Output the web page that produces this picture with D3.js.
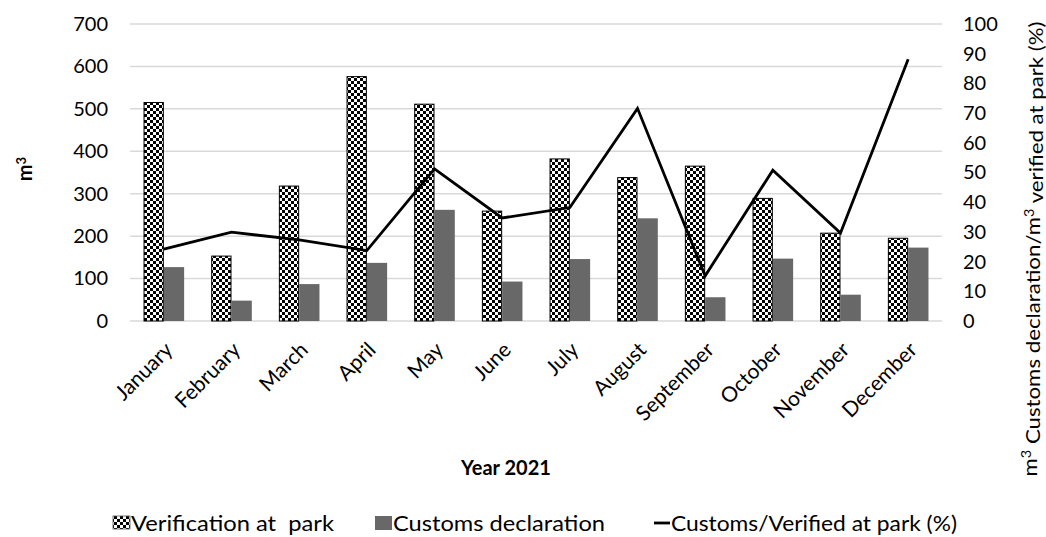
<!DOCTYPE html>
<html>
<head>
<meta charset="utf-8">
<script src="https://cdn.jsdelivr.net/npm/d3@7"></script>
<style>
  html, body { margin: 0; padding: 0; background: #fff; }
  svg { display: block; }
  text { font-family: Lato, "Open Sans", sans-serif; fill: #000; white-space: pre; }
</style>
</head>
<body>
<svg id="chart" width="1046" height="537"></svg>
<script>
const months = ["January","February","March","April","May","June","July","August","September","October","November","December"];
const verification = [515, 153, 318, 576, 511, 259, 382, 338, 365, 289, 207, 195];
const customs = [127, 48, 87, 137, 262, 93, 146, 242, 56, 147, 62, 173];
const ratioPct = [24.2, 29.9, 27.3, 23.7, 51.2, 34.7, 38.2, 71.6, 15.2, 50.8, 29.6, 88.1];
const leftTicks = [0, 100, 200, 300, 400, 500, 600, 700];
const rightTicks = [0, 10, 20, 30, 40, 50, 60, 70, 80, 90, 100];
const seriesNames = ["Verification at  park", "Customs declaration", "Customs/Verified at park (%)"];

const svg = d3.select("#chart");
const plotL = 130, plotR = 942, plotT = 24, plotB = 321;

const defs = svg.append("defs");
const pat = defs.append("pattern").attr("id", "checks").attr("patternUnits", "userSpaceOnUse")
  .attr("width", 6).attr("height", 6);
pat.append("rect").attr("width", 6).attr("height", 6).attr("fill", "#fff");
pat.append("rect").attr("x", 0).attr("y", 0).attr("width", 3).attr("height", 3).attr("fill", "#000");
pat.append("rect").attr("x", 3).attr("y", 3).attr("width", 3).attr("height", 3).attr("fill", "#000");

const x = d3.scaleBand().domain(months).range([plotL, plotR]).paddingInner(0.4).paddingOuter(0.2);
const xs = d3.scaleBand().domain(["v","c"]).range([0, x.bandwidth()]);
const yL = d3.scaleLinear().domain([0, 700]).range([plotB, plotT]);
const yR = d3.scaleLinear().domain([0, 100]).range([plotB, plotT]);

// gridlines
svg.append("g").selectAll("line").data(leftTicks).join("line")
  .attr("x1", plotL).attr("x2", plotR)
  .attr("y1", d => yL(d)).attr("y2", d => yL(d))
  .attr("stroke", "#d9d9d9").attr("stroke-width", 1.5);

// left axis labels
const gl = svg.append("g").attr("transform", `translate(${plotL - 22},0)`)
  .call(d3.axisLeft(yL).tickValues(leftTicks).tickSize(0).tickPadding(0));
gl.select(".domain").remove();
gl.selectAll("text").style("font-family", "Lato, sans-serif").style("font-size", "20px").attr("fill", "#000");

// right axis labels
const gr = svg.append("g").attr("transform", `translate(${plotR + 21},0)`)
  .call(d3.axisRight(yR).tickValues(rightTicks).tickSize(0).tickPadding(0));
gr.select(".domain").remove();
gr.selectAll("text").style("font-family", "Lato, sans-serif").style("font-size", "20px").attr("fill", "#000");

// bars
svg.append("g").selectAll("rect").data(months).join("rect")
  .attr("x", d => x(d) + xs("v") + 0.5)
  .attr("y", (d, i) => yL(verification[i]))
  .attr("width", xs.bandwidth() - 1)
  .attr("height", (d, i) => yL(0) - yL(verification[i]))
  .attr("fill", "url(#checks)").attr("stroke", "#000").attr("stroke-width", 1);

svg.append("g").selectAll("rect").data(months).join("rect")
  .attr("x", d => x(d) + xs("c"))
  .attr("y", (d, i) => yL(customs[i]))
  .attr("width", xs.bandwidth())
  .attr("height", (d, i) => yL(0) - yL(customs[i]))
  .attr("fill", "#686868");

// line
const line = d3.line().x((d, i) => x(months[i]) + x.bandwidth() / 2).y(d => yR(d));
svg.append("path").datum(ratioPct).attr("d", line)
  .attr("fill", "none").attr("stroke", "#000").attr("stroke-width", 2.8).attr("stroke-linejoin", "miter");

// x labels
const gx = svg.append("g").attr("transform", `translate(0,${plotB})`)
  .call(d3.axisBottom(x).tickSize(0).tickPadding(0));
gx.select(".domain").remove();
gx.selectAll("text")
  .style("font-family", "Lato, sans-serif").style("font-size", "21px").attr("fill", "#000")
  .attr("text-anchor", "end")
  .attr("transform", "translate(5,25) rotate(-45)")
  .attr("dy", "0.35em").attr("y", 0).attr("x", 0);

// axis titles
svg.append("text").attr("x", 506).attr("y", 475).attr("text-anchor", "middle")
  .style("font-size", "20px").style("font-weight", "bold").text("Year 2021");

const lt = svg.append("text").attr("transform", "translate(32,169) rotate(-90)").attr("text-anchor", "middle")
  .style("font-size", "20px").style("font-weight", "bold");
lt.append("tspan").text("m");
lt.append("tspan").attr("dy", "-0.45em").style("font-size", "13px").text("3");

const rt = svg.append("text").attr("transform", "translate(1037,249) rotate(-90)").attr("text-anchor", "middle")
  .style("font-size", "20px").attr("textLength", 455).attr("lengthAdjust", "spacingAndGlyphs");
rt.append("tspan").text("m");
rt.append("tspan").attr("dy", "-0.45em").style("font-size", "13px").text("3");
rt.append("tspan").attr("dy", "0.45em").text(" Customs declaration/m");
rt.append("tspan").attr("dy", "-0.45em").style("font-size", "13px").text("3");
rt.append("tspan").attr("dy", "0.45em").text(" verified at park (%)");

// legend
const lg = svg.append("g");
const legY = 531;
lg.append("rect").attr("x", 113).attr("y", 516).attr("width", 17).attr("height", 13)
  .attr("fill", "url(#checks)").attr("stroke", "#555").attr("stroke-width", 0.8);
lg.append("text").attr("x", 131).attr("y", legY).style("font-size", "21px")
  .attr("textLength", 203).attr("lengthAdjust", "spacingAndGlyphs").text(seriesNames[0]);
lg.append("rect").attr("x", 375).attr("y", 516).attr("width", 17).attr("height", 14).attr("fill", "#686868");
lg.append("text").attr("x", 393).attr("y", legY).style("font-size", "21px")
  .attr("textLength", 212).attr("lengthAdjust", "spacingAndGlyphs").text(seriesNames[1]);
lg.append("line").attr("x1", 654).attr("x2", 670).attr("y1", 523).attr("y2", 523)
  .attr("stroke", "#000").attr("stroke-width", 2.8);
lg.append("text").attr("x", 671).attr("y", legY).style("font-size", "21px")
  .attr("textLength", 286).attr("lengthAdjust", "spacingAndGlyphs").text(seriesNames[2]);
</script>
</body>
</html>
